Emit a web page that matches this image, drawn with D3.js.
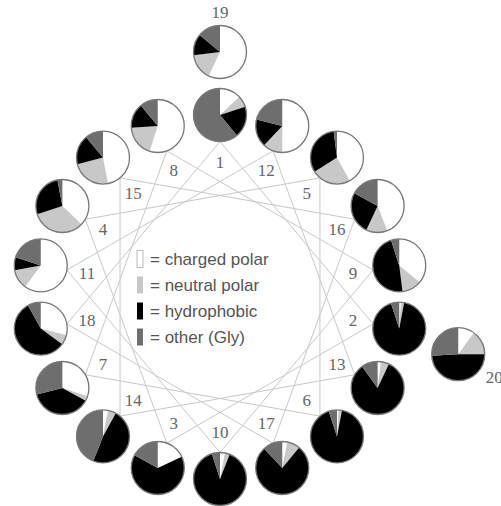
<!DOCTYPE html>
<html lang="en">
  <head>
    <meta charset="utf-8">
    <title>Helical wheel</title>
    <script src="https://d3js.org/d3.v7.min.js"></script>
    <style>
      body { margin: 0; background: #fff; }
      .link { stroke: #c8c8c8; stroke-width: 1px; fill: none; }
      .num { font-family: "Liberation Serif", serif; font-size: 17px; fill: #666; }
      .leg { font-family: "Liberation Sans", Arial, sans-serif; font-size: 17px; fill: #555; }
    </style>
  </head>
  <body>
    <svg id="wheel" width="501" height="506"></svg>
    <script>
      // residue numbers and composition fractions (charged, neutral, hydrophobic, other)
      const residues    = [1, 2, 3, 4, 5, 6, 7, 8, 9, 10, 11, 12, 13, 14, 15, 16, 17, 18, 19, 20];
      const charged     = [.13, .01, .18, .37, .42, .01, .30, .55, .36, .03, .60, .50, .02, .03, .47, .44, .03, .29, .57, .10];
      const neutral     = [.07, .02, .00, .33, .24, .02, .03, .19, .12, .03, .12, .12, .05, .05, .24, .13, .08, .06, .16, .15];
      const hydrophobic = [.19, .92, .65, .27, .32, .92, .38, .15, .47, .89, .08, .17, .83, .48, .18, .26, .77, .57, .13, .49];
      const other       = [.61, .05, .17, .03, .02, .05, .29, .11, .05, .05, .20, .21, .10, .44, .11, .17, .12, .08, .14, .26];
      const classes     = ['charged polar', 'neutral polar', 'hydrophobic', 'other (Gly)'];
      const colours     = ['#ffffff', '#c8c8c8', '#000000', '#6e6e6e'];

      const svg = d3.select('#wheel');
      const cx = 220, cy = 297, R = 182, pr = 26.5;

      // 100 degrees per residue around the wheel, 19 and 20 sit outside
      function angleOf(n) {
        if (n == 20) return 103.5;
        return ((n - 1) * 100) % 360;
      }
      function ringOf(n) { return n > 18 ? 245 : R; }
      function pos(n, r) {
        let a = angleOf(n) * Math.PI / 180;
        return [cx + r * Math.sin(a), cy - r * Math.cos(a)];
      }

      // connecting lines between consecutive residues 1..18
      let path = d3.range(1, 19).concat([1]);
      svg.append('path')
        .attr('class', 'link')
        .attr('d', d3.line()(path.map(function(n){ return pos(n, R - pr); })));

      // residue numbers inside the wheel
      svg.selectAll('text.num')
        .data(residues.filter(function(n){ return n <= 18; }))
        .join('text')
        .attr('class', 'num')
        .attr('x', function(n){ return pos(n, 135)[0]; })
        .attr('y', function(n){ return pos(n, 135)[1]; })
        .attr('text-anchor', 'middle')
        .attr('dominant-baseline', 'central')
        .text(function(n){ return n; });

      // pies
      let pie = d3.pie().sort(null).value(function(d){ return d; });
      let arc = d3.arc().innerRadius(0).outerRadius(pr);
      let g = svg.selectAll('g.pie')
        .data(residues)
        .join('g')
        .attr('class', 'pie')
        .attr('transform', function(n){
          let p = pos(n, ringOf(n));
          return 'translate(' + p[0] + ',' + p[1] + ')';
        });
      g.selectAll('path')
        .data(function(n, i){ return pie([charged[i], neutral[i], hydrophobic[i], other[i]]); })
        .join('path')
        .attr('d', arc)
        .attr('fill', function(d, i){ return colours[i]; });
      g.append('circle')
        .attr('r', pr)
        .attr('fill', 'none')
        .attr('stroke', '#777')
        .attr('stroke-width', 1.3);

      // labels of the outer residues
      let p19 = pos(19, ringOf(19));
      svg.append('text').attr('class', 'num')
        .attr('x', p19[0]).attr('y', p19[1] - pr - 13)
        .attr('text-anchor', 'middle').attr('dominant-baseline', 'central')
        .text(19);
      let p20 = pos(20, ringOf(20));
      svg.append('text').attr('class', 'num')
        .attr('x', p20[0] + pr + 1).attr('y', p20[1] + 23)
        .attr('dominant-baseline', 'central')
        .text(20);

      // legend
      let leg = svg.selectAll('g.leg')
        .data(classes)
        .join('g')
        .attr('class', 'leg')
        .attr('transform', function(d, i){ return 'translate(137,' + (259 + i * 26) + ')'; });
      leg.append('rect')
        .attr('x', 0).attr('y', -8.5).attr('width', 6).attr('height', 17)
        .attr('fill', function(d, i){ return colours[i]; })
        .attr('stroke', function(d, i){ return i == 0 ? '#bbb' : 'none'; });
      leg.append('text')
        .attr('class', 'leg')
        .attr('x', 13)
        .attr('dominant-baseline', 'central')
        .text(function(d){ return '= ' + d; });
    </script>
  </body>
</html>
